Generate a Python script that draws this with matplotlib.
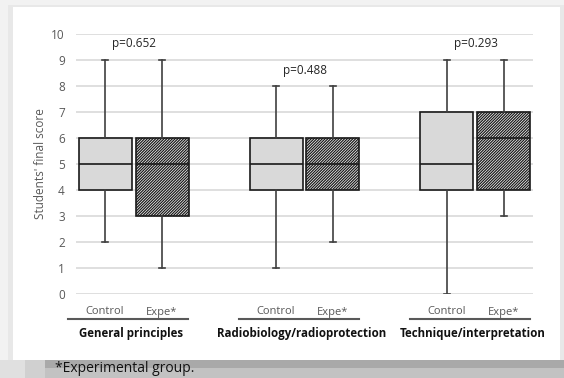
import matplotlib
matplotlib.use("Agg")
import matplotlib.pyplot as plt
from matplotlib.patches import Rectangle
from matplotlib.lines import Line2D
import matplotlib.transforms as mtransforms

plt.rcParams['font.family'] = ['Open Sans', 'DejaVu Sans']

groups = ["General principles", "Radiobiology/radioprotection", "Technique/interpretation"]
subgroups = ["Control", "Expe*"]
p_values = ["p=0.652", "p=0.488", "p=0.293"]
p_heights = [9.65, 8.6, 9.65]
# (min, q1, median, q3, max) per box: G1 C, G1 E, G2 C, G2 E, G3 C, G3 E
box_mins = [2, 1, 1, 2, 0, 3]
box_q1 = [4, 3, 4, 4, 4, 4]
box_med = [5, 5, 5, 5, 5, 6]
box_q3 = [6, 6, 6, 6, 7, 7]
box_maxs = [9, 9, 8, 8, 9, 9]
yticks = list(range(0, 11))

W, H = 564, 378
fig = plt.figure(figsize=(W / 100, H / 100), dpi=100)
fig.patch.set_facecolor("#f2f2f2")

def px_rect(x0, y0, x1, y1, color, z=0):
    fig.patches.append(Rectangle((x0 / W, 1 - y1 / H), (x1 - x0) / W, (y1 - y0) / H,
                                 transform=fig.transFigure, facecolor=color,
                                 edgecolor="none", zorder=z))

px_rect(8, 5, 564, 362, "#e8e8e8", -2)
px_rect(13, 7, 560, 360, "white", -1)
# bottom band
px_rect(0, 360, 564, 378, "#c2c2c2", -1)
px_rect(45, 360, 564, 368, "#a9a9a9", -1)
px_rect(0, 360, 25, 378, "#e0e0e0", -1)
px_rect(25, 360, 45, 378, "#d0d0d0", -1)

ax = fig.add_axes([76 / W, 1 - 294 / H, (533 - 76) / W, (294 - 34) / H])
ax.set_facecolor("none")

positions = [1, 2, 4, 5, 7, 8]
stats = []
for i in range(6):
    stats.append(dict(whislo=box_mins[i], q1=box_q1[i], med=box_med[i],
                      q3=box_q3[i], whishi=box_maxs[i], fliers=[]))
plt.rcParams['hatch.linewidth'] = 0.9
bp = ax.bxp(stats, positions=positions, widths=0.93, patch_artist=True,
            showfliers=False, capwidths=0.09,
            medianprops=dict(color="#1a1a1a", linewidth=1.2),
            whiskerprops=dict(color="#404040", linewidth=1.2),
            capprops=dict(color="#404040", linewidth=1.2),
            boxprops=dict(linewidth=1.2))
for i, b in enumerate(bp['boxes']):
    b.set_edgecolor("#1a1a1a")
    if i % 2 == 0:
        b.set_facecolor("#d9d9d9")
    else:
        b.set_facecolor("#ffffff")
        b.set_hatch("////////////")
    b.set_zorder(3)
for k in ('medians', 'whiskers', 'caps'):
    for l in bp[k]:
        l.set_zorder(4)

ax.set_ylim(0, 10)
ax.set_xlim(0.49, 8.51)
ax.set_yticks(yticks)
ax.yaxis.grid(True, color="#d9d9d9", linewidth=1.2, zorder=0)
ax.set_axisbelow(True)
for s in ax.spines.values():
    s.set_visible(False)
ax.tick_params(axis='y', length=0, labelsize=8.5, labelcolor="#595959", pad=8)
ax.set_xticks(positions)
ax.set_xticklabels(subgroups * 3)
ax.tick_params(axis='x', length=0, labelsize=8, labelcolor="#595959", pad=9)
ax.set_ylabel("Students' final score", fontsize=8.5, color="#595959", labelpad=3)

# p-values
for g in range(3):
    ax.text((positions[2 * g] + positions[2 * g + 1]) / 2, p_heights[g], p_values[g],
            ha="center", va="center", fontsize=8.5, color="#262626")

# group underlines and labels
trans = mtransforms.blended_transform_factory(ax.transData, ax.transAxes)
line_y = 1 - (319 - 34) / (294 - 34)
lab_y = 1 - (333 - 34) / (294 - 34)
for g in range(3):
    x0 = positions[2 * g] - 0.65
    x1 = positions[2 * g + 1] + 0.45
    ax.add_line(Line2D([x0, x1], [line_y, line_y], transform=trans, color="#595959",
                       linewidth=1.5, clip_on=False))
    ax.text((positions[2 * g] + positions[2 * g + 1]) / 2 - 0.05, lab_y, groups[g],
            transform=trans, ha="center", va="center", fontsize=8.3,
            fontweight="bold", color="#111111")

fig.text(55 / W, 1 - 369 / H, "*Experimental group.", ha="left", va="center",
         fontsize=10, color="#111111")

fig.savefig("out.png", dpi=100)
